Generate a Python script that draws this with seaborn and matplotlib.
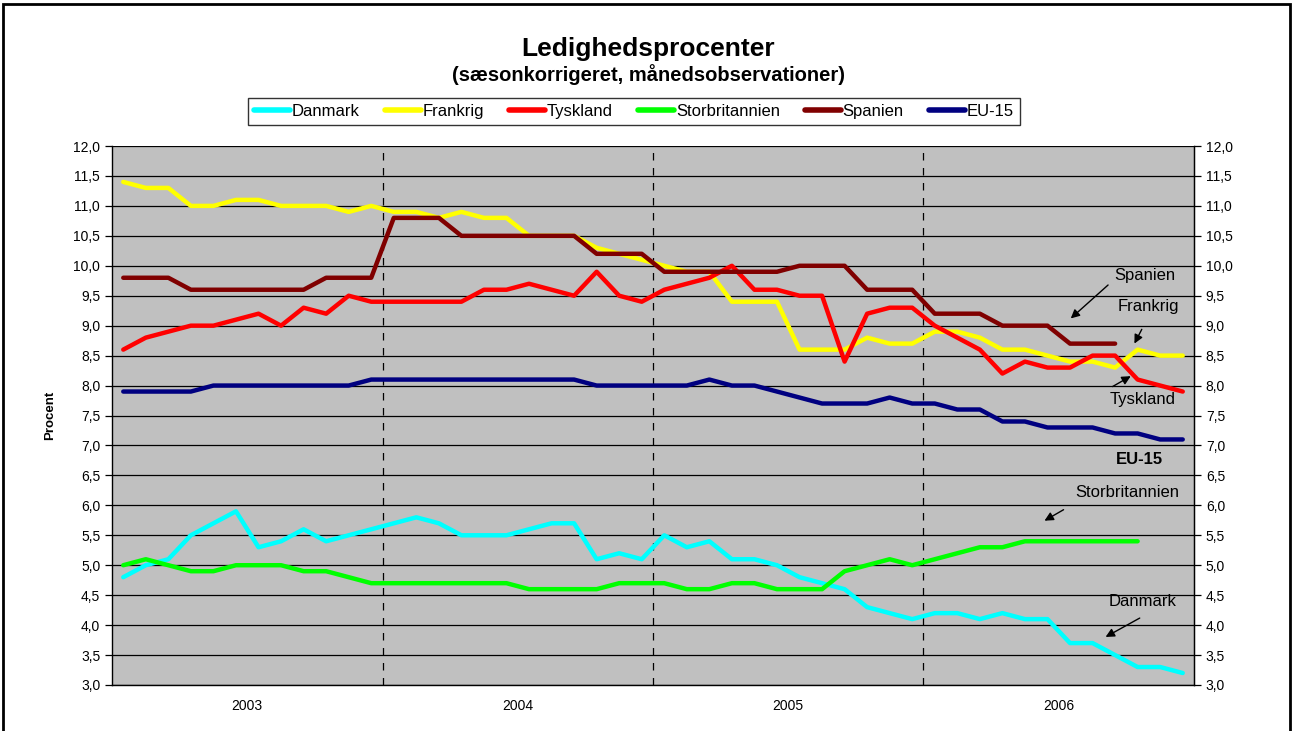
import numpy as np
import pandas as pd
import matplotlib
matplotlib.use("Agg")
import matplotlib.pyplot as plt
from matplotlib.patches import Rectangle
import seaborn as sns

# monthly observations Jan 2003 - Dec 2006
years = ["2003", "2004", "2005", "2006"]
nan = np.nan

danmark = [4.8, 5.0, 5.1, 5.5, 5.7, 5.9, 5.3, 5.4, 5.6, 5.4, 5.5, 5.6,
           5.7, 5.8, 5.7, 5.5, 5.5, 5.5, 5.6, 5.7, 5.7, 5.1, 5.2, 5.1,
           5.5, 5.3, 5.4, 5.1, 5.1, 5.0, 4.8, 4.7, 4.6, 4.3, 4.2, 4.1,
           4.2, 4.2, 4.1, 4.2, 4.1, 4.1, 3.7, 3.7, 3.5, 3.3, 3.3, 3.2]
frankrig = [11.4, 11.3, 11.3, 11.0, 11.0, 11.1, 11.1, 11.0, 11.0, 11.0, 10.9, 11.0,
            10.9, 10.9, 10.8, 10.9, 10.8, 10.8, 10.5, 10.5, 10.5, 10.3, 10.2, 10.1,
            10.0, 9.9, 9.9, 9.4, 9.4, 9.4, 8.6, 8.6, 8.6, 8.8, 8.7, 8.7,
            8.9, 8.9, 8.8, 8.6, 8.6, 8.5, 8.4, 8.4, 8.3, 8.6, 8.5, 8.5]
tyskland = [8.6, 8.8, 8.9, 9.0, 9.0, 9.1, 9.2, 9.0, 9.3, 9.2, 9.5, 9.4,
            9.4, 9.4, 9.4, 9.4, 9.6, 9.6, 9.7, 9.6, 9.5, 9.9, 9.5, 9.4,
            9.6, 9.7, 9.8, 10.0, 9.6, 9.6, 9.5, 9.5, 8.4, 9.2, 9.3, 9.3,
            9.0, 8.8, 8.6, 8.2, 8.4, 8.3, 8.3, 8.5, 8.5, 8.1, 8.0, 7.9]
storbritannien = [5.0, 5.1, 5.0, 4.9, 4.9, 5.0, 5.0, 5.0, 4.9, 4.9, 4.8, 4.7,
                  4.7, 4.7, 4.7, 4.7, 4.7, 4.7, 4.6, 4.6, 4.6, 4.6, 4.7, 4.7,
                  4.7, 4.6, 4.6, 4.7, 4.7, 4.6, 4.6, 4.6, 4.9, 5.0, 5.1, 5.0,
                  5.1, 5.2, 5.3, 5.3, 5.4, 5.4, 5.4, 5.4, 5.4, 5.4, nan, nan]
spanien = [9.8, 9.8, 9.8, 9.6, 9.6, 9.6, 9.6, 9.6, 9.6, 9.8, 9.8, 9.8,
           10.8, 10.8, 10.8, 10.5, 10.5, 10.5, 10.5, 10.5, 10.5, 10.2, 10.2, 10.2,
           9.9, 9.9, 9.9, 9.9, 9.9, 9.9, 10.0, 10.0, 10.0, 9.6, 9.6, 9.6,
           9.2, 9.2, 9.2, 9.0, 9.0, 9.0, 8.7, 8.7, 8.7, nan, nan, nan]
eu15 = [7.9, 7.9, 7.9, 7.9, 8.0, 8.0, 8.0, 8.0, 8.0, 8.0, 8.0, 8.1,
        8.1, 8.1, 8.1, 8.1, 8.1, 8.1, 8.1, 8.1, 8.1, 8.0, 8.0, 8.0,
        8.0, 8.0, 8.1, 8.0, 8.0, 7.9, 7.8, 7.7, 7.7, 7.7, 7.8, 7.7,
        7.7, 7.6, 7.6, 7.4, 7.4, 7.3, 7.3, 7.3, 7.2, 7.2, 7.1, 7.1]

series = {"Danmark": danmark, "Frankrig": frankrig, "Tyskland": tyskland,
          "Storbritannien": storbritannien, "Spanien": spanien, "EU-15": eu15}
colors = {"Danmark": "#00FFFF", "Frankrig": "#FFFF00", "Tyskland": "#FF0000",
          "Storbritannien": "#00FF00", "Spanien": "#800000", "EU-15": "#000080"}

month = np.arange(48) + 0.5
df = pd.concat([pd.DataFrame({"month": month, "value": v, "land": k})
                for k, v in series.items()], ignore_index=True)

sns.set_style("white")
plt.rcParams["font.family"] = ["Liberation Sans", "DejaVu Sans"]
plt.rcParams["text.color"] = "black"
plt.rcParams["axes.labelcolor"] = "black"
plt.rcParams["xtick.color"] = "black"
plt.rcParams["ytick.color"] = "black"

fig = plt.figure(figsize=(12.92, 7.31), dpi=100)
ax = fig.add_axes([112 / 1292, 1 - 685 / 731, (1194 - 112) / 1292, (685 - 146) / 731])
ax.set_facecolor("#C0C0C0")

sns.lineplot(data=df, x="month", y="value", hue="land", palette=colors,
             linewidth=3.2, ax=ax, legend=True, zorder=3)

ax.set_xlim(0, 48)
ax.set_ylim(3.0, 12.0)
yt = np.arange(3.0, 12.01, 0.5)
ylabels = [f"{v:.1f}".replace(".", ",") for v in yt]
ax.set_yticks(yt)
ax.set_yticklabels(ylabels, fontsize=10)
ax.grid(axis="y", color="black", linewidth=0.9)
ax.set_axisbelow(True)
for b in [12, 24, 36]:
    ax.axvline(b, color="black", linestyle=(0, (6, 6)), linewidth=0.9, zorder=2)

ax.set_xticks([0, 12, 24, 36, 48])
ax.set_xticklabels([])
ax.set_xticks([6, 18, 30, 42], minor=True)
ax.set_xticklabels(years, minor=True, fontsize=10)
ax.tick_params(axis="x", which="major", length=6, width=0.9, direction="out", color="black")
ax.tick_params(axis="x", which="minor", length=0, pad=10)
ax.tick_params(axis="y", length=5, width=0.9, direction="out", color="black", left=True)
ax.set_xlabel("")
ax.set_ylabel("Procent", fontsize=9.5, fontweight="bold", labelpad=12)

for s in ["left", "bottom", "right"]:
    ax.spines[s].set_color("black")
    ax.spines[s].set_linewidth(1.0)
ax.spines["top"].set_visible(False)

ax2 = ax.twinx()
ax2.set_ylim(3.0, 12.0)
ax2.set_yticks(yt)
ax2.set_yticklabels(ylabels, fontsize=10)
ax2.tick_params(axis="y", length=5, width=0.9, direction="out", color="black", right=True)
for s in ["top", "left", "bottom"]:
    ax2.spines[s].set_visible(False)
ax2.spines["right"].set_color("black")

# legend
handles, labels = ax.get_legend_handles_labels()
for h in handles:
    h.set_linewidth(4)
ax.get_legend().remove()
leg = fig.legend(handles, labels, ncol=6, loc="center",
                 bbox_to_anchor=(634 / 1292, 1 - 111.5 / 731), fontsize=12,
                 frameon=True, fancybox=False, edgecolor="black",
                 handlelength=2.15, handletextpad=0.12, columnspacing=1.5,
                 borderpad=0.35, borderaxespad=0)
leg.get_frame().set_linewidth(1.0)

# titles
fig.text(648 / 1292, 1 - 56 / 731, "Ledighedsprocenter", ha="center", va="baseline",
         fontsize=19, fontweight="bold")
fig.text(649 / 1292, 1 - 81 / 731, "(sæsonkorrigeret, månedsobservationer)", ha="center",
         va="baseline", fontsize=14.5, fontweight="bold")

# labels with arrows
arrow = dict(arrowstyle="-|>", color="black", lw=1.0, mutation_scale=13)
ax.text(45.8, 9.84, "Spanien", ha="center", va="center", fontsize=12)
ax.annotate("", xy=(42.44, 9.09), xytext=(44.28, 9.71), arrowprops=arrow)
ax.text(45.96, 9.32, "Frankrig", ha="center", va="center", fontsize=12)
ax.annotate("", xy=(45.30, 8.66), xytext=(45.74, 8.98), arrowprops=arrow)
ax.text(45.70, 7.76, "Tyskland", ha="center", va="center", fontsize=12)
ax.annotate("", xy=(45.30, 8.18), xytext=(44.28, 7.96), arrowprops=arrow)
ax.text(45.60, 6.77, "EU-15", ha="center", va="center", fontsize=12, fontweight="bold")
ax.text(45.03, 6.21, "Storbritannien", ha="center", va="center", fontsize=12)
ax.annotate("", xy=(41.26, 5.72), xytext=(42.32, 5.95), arrowprops=arrow)
ax.text(45.70, 4.39, "Danmark", ha="center", va="center", fontsize=12)
ax.annotate("", xy=(43.97, 3.78), xytext=(45.70, 4.14), arrowprops=arrow)

# outer frame
fig.patches.append(Rectangle((3 / 1292, -0.02), (1290 - 3) / 1292, 1.02 - 4 / 731,
                             transform=fig.transFigure, fill=False,
                             edgecolor="black", linewidth=2.0))

fig.savefig("out.png", dpi=100)
